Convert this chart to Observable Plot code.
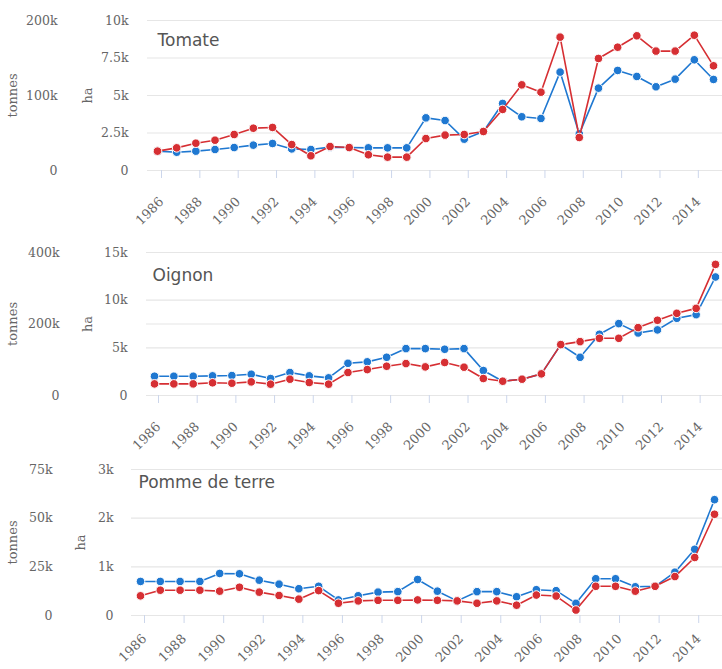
<!DOCTYPE html>
<html>
<head>
<meta charset="utf-8">
<script src="https://cdn.jsdelivr.net/npm/d3@7"></script>
<script src="https://cdn.jsdelivr.net/npm/@observablehq/plot@0.6"></script>
<style>
  html, body { margin: 0; padding: 0; background: #fff; }
  #chart { width: 722px; }
  #chart svg { display: block; }
</style>
</head>
<body>
<div id="chart"></div>
<script>
// ---- data ----
const years = d3.range(1986, 2016);
const yearTicks = d3.range(1986, 2016, 2);

// Tomate
const tomateHa = [1290,1220,1290,1400,1530,1690,1800,1440,1400,1560,1530,1510,1510,1510,3510,3330,2090,2600,4470,3580,3470,6560,2440,5490,6670,6270,5580,6090,7380,6070];
const tomateTonnes = [25800,30200,36400,40400,48000,56400,57400,34600,19600,32000,30600,21000,17800,17800,42600,47200,48000,52000,81400,114200,104400,177800,44000,149400,164400,179600,159200,159200,180400,139600];
const tomateHaTicks = [0,2500,5000,7500,10000];
const tomateTonnesTicks = [0,100000,200000];

// Oignon
const oignonHa = [2020,2020,2020,2060,2090,2230,1780,2410,2060,1850,3380,3530,4010,4920,4920,4850,4920,2620,1500,1710,2270,5340,4010,6420,7540,6560,6880,8100,8480,12430];
const oignonTonnes = [32500,32500,32500,35500,34400,38100,31700,45600,36300,31700,64300,72500,81900,89300,80000,92300,79200,47500,40000,45600,60500,142400,150700,160000,160000,189900,210400,229900,243700,366700];
const oignonHaTicks = [0,5000,10000,15000];
const oignonTonnesTicks = [0,200000,400000];

// Pomme de terre
const pommeHa = [700,700,700,700,864,857,726,644,550,600,320,405,480,490,740,500,300,490,490,385,530,510,250,755,755,590,600,890,1360,2380];
const pommeTonnes = [10100,13000,13000,13000,12500,14500,12000,10300,8400,12800,6300,7500,7800,7800,8000,7800,7500,6300,7500,5300,10500,10000,2800,15000,15000,12500,15000,20000,29800,52000];
const pommeHaTicks = [0,1000,2000,3000];
const pommeTonnesTicks = [0,25000,50000,75000];

const titles = ["Tomate", "Oignon", "Pomme de terre"];

// ---- styles ----
const BLUE = "#1f78d1";
const RED = "#d62f33";
const GRID = "#e6e6e6";
const TICK = "#ccd6eb";
const TXT = "#666666";
const SERIF = "'DejaVu Serif', serif";
const SANS = "'DejaVu Sans', Verdana, sans-serif";

const fmtK = d => d === 0 ? "0" : (d / 1000) + "k";

const panels = [
  {title: titles[0], ha: tomateHa, tonnes: tomateTonnes, haTicks: tomateHaTicks, tTicks: tomateTonnesTicks,
   haMax: 10000, tMax: 200000,
   height: 222, mt: 20, mb: 52, ml: 147, insL: 10, insR: 9, pad: 21,
   tEnd: 57, haEnd: 128, tLab: 12, haLab: 87, titleDx: 10, titleDy: 25},
  {title: titles[1], ha: oignonHa, tonnes: oignonTonnes, haTicks: oignonHaTicks, tTicks: oignonTonnesTicks,
   haMax: 15000, tMax: 400000,
   height: 220, mt: 30, mb: 47, ml: 146, insL: 8, insR: 7, pad: 21,
   tEnd: 59, haEnd: 127, tLab: 12, haLab: 87, titleDx: 6, titleDy: 28},
  {title: titles[2], ha: pommeHa, tonnes: pommeTonnes, haTicks: pommeHaTicks, tTicks: pommeTonnesTicks,
   haMax: 3000, tMax: 75000,
   height: 227, mt: 27, mb: 54, ml: 131, insL: 9, insR: 8, pad: 13,
   tEnd: 52, haEnd: 113, tLab: 12, haLab: 80, titleDx: 7, titleDy: 18}
];

const container = document.getElementById("chart");

for (const p of panels) {
  const ratio = p.tMax / p.haMax;
  const rows = years.map((y, i) => ({year: y, ha: p.ha[i], tonnes: p.tonnes[i]}));
  const gridVals = Array.from(new Set([...p.haTicks, ...p.tTicks.map(t => t / ratio)]));

  const chart = Plot.plot({
    width: 722,
    height: p.height,
    marginTop: p.mt,
    marginBottom: p.mb,
    marginLeft: p.ml,
    marginRight: 0,
    style: {fontFamily: SERIF, fontSize: "12px", color: TXT, background: "#fff", overflow: "visible"},
    x: {domain: [1986, 2015], insetLeft: p.insL, insetRight: p.insR},
    y: {domain: [0, p.haMax]},
    marks: [
      Plot.ruleY(gridVals, {stroke: GRID, strokeWidth: 1.2}),
      // x axis
      Plot.axisX(yearTicks, {
        tickFormat: d => String(d), tickRotate: -45, tickSize: 8, tickPadding: p.pad, dx: 4,
        stroke: TICK, strokeOpacity: 1, fill: TXT, fontSize: 13, label: null
      }),
      // ha axis
      Plot.axisY(p.haTicks, {
        anchor: "left", tickSize: 0, tickPadding: p.ml - p.haEnd,
        tickFormat: fmtK, fill: TXT, fontSize: 12.5, label: null
      }),
      // tonnes axis (tick values converted onto the ha scale)
      Plot.axisY(p.tTicks.map(t => t / ratio), {
        anchor: "left", tickSize: 0, tickPadding: p.ml - p.tEnd,
        tickFormat: d => fmtK(Math.round(d * ratio)), fill: TXT, fontSize: 12.5, label: null
      }),
      // axis titles
      Plot.text(["tonnes"], {frameAnchor: "left", dx: p.tLab - p.ml, rotate: -90, textAnchor: "middle",
        lineAnchor: "middle", fill: TXT, fontSize: 13}),
      Plot.text(["ha"], {frameAnchor: "left", dx: p.haLab - p.ml, rotate: -90, textAnchor: "middle",
        lineAnchor: "middle", fill: TXT, fontSize: 13}),
      // panel title
      Plot.text([p.title], {frameAnchor: "top-left", dx: p.titleDx, dy: p.titleDy, textAnchor: "start",
        lineAnchor: "bottom", fill: "#555", fontSize: 17, fontFamily: SANS}),
      // blue series (ha)
      Plot.line(rows, {x: "year", y: "ha", stroke: BLUE, strokeWidth: 1.6}),
      Plot.dot(rows, {x: "year", y: "ha", fill: BLUE, stroke: "#fff", strokeWidth: 1, r: 4.3}),
      // red series (tonnes, on its own axis)
      Plot.line(rows, {x: "year", y: d => d.tonnes / ratio, stroke: RED, strokeWidth: 1.6}),
      Plot.dot(rows, {x: "year", y: d => d.tonnes / ratio, fill: RED, stroke: "#fff", strokeWidth: 1, r: 4.3})
    ]
  });
  container.appendChild(chart);
}
</script>
</body>
</html>
